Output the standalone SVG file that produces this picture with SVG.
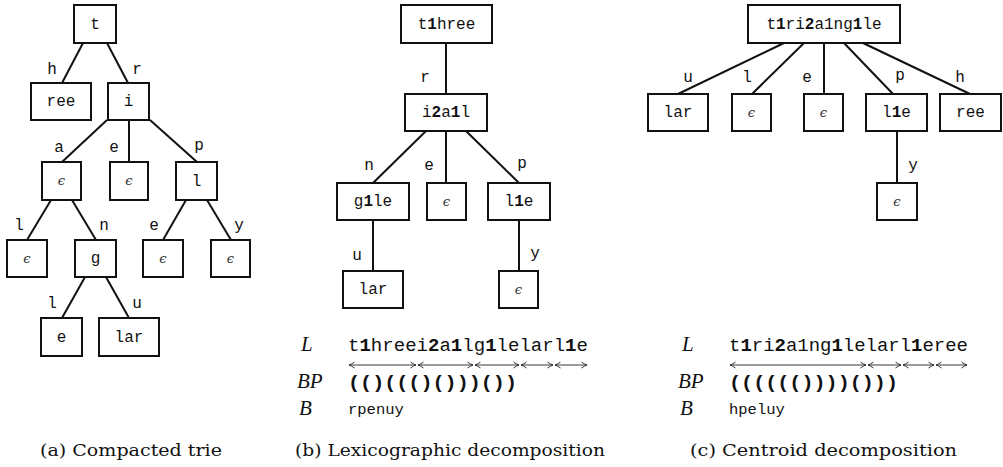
<svg xmlns="http://www.w3.org/2000/svg" width="1003" height="467" viewBox="0 0 1003 467">
<defs>
<style>
.box{fill:#fff;stroke:#111;stroke-width:2}
.edge{stroke:#111;stroke-width:2;fill:none}
.t{font-family:"Liberation Mono",monospace;font-size:16px;text-anchor:middle;fill:#111}
.eps{font-family:"DejaVu Serif",serif;font-style:italic;font-size:13px;text-anchor:middle;fill:#333}
.math{font-family:"Liberation Serif",serif;font-style:italic;font-size:21px;fill:#111}
.row{font-family:"Liberation Mono",monospace;font-size:19px;fill:#111}
.bp{font-family:"Liberation Mono",monospace;font-size:19px;font-weight:bold;fill:#111}
.bs{font-family:"Liberation Mono",monospace;font-size:15.5px;fill:#111}
.cap{font-family:"DejaVu Serif",serif;font-size:17px;fill:#111}
.b{font-weight:bold}
.arr{stroke:#222;stroke-width:0.9;fill:none;marker-start:url(#ah);marker-end:url(#ah)}
</style>
<marker id="ah" viewBox="0 0 8 8" refX="7.5" refY="4" markerWidth="8" markerHeight="8" markerUnits="userSpaceOnUse" orient="auto-start-reverse">
<path d="M2,1 Q5,3.2 7.5,4 Q5,4.8 2,7" fill="none" stroke="#222" stroke-width="0.9"/>
</marker>
</defs>

<!-- Panel (a) -->
<g id="a-connectors">
<line class="edge" x1="83" y1="43" x2="62" y2="83"/>
<line class="edge" x1="107" y1="43" x2="128" y2="83"/>
<line class="edge" x1="107" y1="120" x2="62" y2="162"/>
<line class="edge" x1="129" y1="120" x2="129" y2="162"/>
<line class="edge" x1="150" y1="120" x2="197" y2="162"/>
<line class="edge" x1="51" y1="200" x2="27" y2="240"/>
<line class="edge" x1="72" y1="200" x2="96" y2="240"/>
<line class="edge" x1="186" y1="200" x2="163" y2="240"/>
<line class="edge" x1="207" y1="200" x2="231" y2="240"/>
<line class="edge" x1="85" y1="277" x2="62" y2="318"/>
<line class="edge" x1="106" y1="277" x2="129" y2="318"/>
<text class="t" x="52" y="74">h</text>
<text class="t" x="137" y="74">r</text>
<text class="t" x="59" y="152">a</text>
<text class="t" x="114" y="152">e</text>
<text class="t" x="199" y="150">p</text>
<text class="t" x="19" y="230">l</text>
<text class="t" x="104" y="230">n</text>
<text class="t" x="154" y="230">e</text>
<text class="t" x="239" y="230">y</text>
<text class="t" x="52" y="308">l</text>
<text class="t" x="137" y="308">u</text>
</g>
<g id="a-t"><rect class="box" x="74" y="5" width="42" height="38"/><text class="t" x="95" y="29">t</text></g>
<g id="a-ree"><rect class="box" x="31" y="83" width="60" height="37"/><text class="t" x="61" y="106">ree</text></g>
<g id="a-i"><rect class="box" x="108" y="83" width="41" height="37"/><text class="t" x="128.5" y="106">i</text></g>
<g id="a-eps1"><rect class="box" x="42" y="162" width="39" height="38"/><text class="eps" x="61.5" y="185">ϵ</text></g>
<g id="a-eps2"><rect class="box" x="110" y="162" width="38" height="38"/><text class="eps" x="129" y="185">ϵ</text></g>
<g id="a-l"><rect class="box" x="176" y="162" width="41" height="38"/><text class="t" x="196.5" y="186">l</text></g>
<g id="a-eps3"><rect class="box" x="7" y="240" width="40" height="37"/><text class="eps" x="27" y="263">ϵ</text></g>
<g id="a-g"><rect class="box" x="75" y="240" width="41" height="37"/><text class="t" x="95.5" y="263">g</text></g>
<g id="a-eps4"><rect class="box" x="143" y="240" width="40" height="37"/><text class="eps" x="163" y="263">ϵ</text></g>
<g id="a-eps5"><rect class="box" x="211" y="240" width="39" height="37"/><text class="eps" x="230.5" y="263">ϵ</text></g>
<g id="a-e"><rect class="box" x="41" y="318" width="41" height="38"/><text class="t" x="61.5" y="342">e</text></g>
<g id="a-lar"><rect class="box" x="99" y="318" width="60" height="38"/><text class="t" x="129" y="342">lar</text></g>
<text class="cap" x="40" y="456" textLength="182" lengthAdjust="spacingAndGlyphs">(a)  Compacted trie</text>

<!-- Panel (b) -->
<g id="b-connectors">
<line class="edge" x1="446" y1="43" x2="446" y2="94"/>
<line class="edge" x1="426" y1="131" x2="373" y2="183"/>
<line class="edge" x1="446" y1="131" x2="446" y2="183"/>
<line class="edge" x1="466" y1="131" x2="519" y2="183"/>
<line class="edge" x1="373" y1="220" x2="373" y2="271"/>
<line class="edge" x1="519" y1="220" x2="519" y2="271"/>
<text class="t" x="425" y="82">r</text>
<text class="t" x="369" y="170">n</text>
<text class="t" x="429" y="170">e</text>
<text class="t" x="522" y="168">p</text>
<text class="t" x="357" y="260">u</text>
<text class="t" x="535" y="258">y</text>
</g>
<g id="b-t1hree"><rect class="box" x="401" y="5" width="91" height="38"/><text class="t" x="446.5" y="29">t<tspan class="b">1</tspan>hree</text></g>
<g id="b-i2a1l"><rect class="box" x="405" y="94" width="82" height="37"/><text class="t" x="446" y="117">i<tspan class="b">2</tspan>a<tspan class="b">1</tspan>l</text></g>
<g id="b-g1le"><rect class="box" x="337" y="183" width="72" height="37"/><text class="t" x="373" y="206">g<tspan class="b">1</tspan>le</text></g>
<g id="b-eps1"><rect class="box" x="427" y="183" width="39" height="37"/><text class="eps" x="446.5" y="206">ϵ</text></g>
<g id="b-l1e"><rect class="box" x="488" y="183" width="62" height="37"/><text class="t" x="519" y="206">l<tspan class="b">1</tspan>e</text></g>
<g id="b-lar"><rect class="box" x="343" y="271" width="60" height="37"/><text class="t" x="373" y="294">lar</text></g>
<g id="b-eps2"><rect class="box" x="499" y="271" width="39" height="37"/><text class="eps" x="518.5" y="294">ϵ</text></g>
<g id="b-encoding">
<text class="math" x="301" y="351">L</text>
<text class="row" x="348" y="351" textLength="240" lengthAdjust="spacingAndGlyphs">t<tspan class="b">1</tspan>hreei<tspan class="b">2</tspan>a<tspan class="b">1</tspan>lg<tspan class="b">1</tspan>lelarl<tspan class="b">1</tspan>e</text>
<line class="arr" x1="349" y1="365" x2="416" y2="365"/>
<line class="arr" x1="418" y1="365" x2="473" y2="365"/>
<line class="arr" x1="475" y1="365" x2="519" y2="365"/>
<line class="arr" x1="521" y1="365" x2="553" y2="365"/>
<line class="arr" x1="555" y1="365" x2="587" y2="365"/>
<text class="math" x="297" y="388">BP</text>
<text class="bp" x="348" y="388" textLength="169" lengthAdjust="spacingAndGlyphs">(()((()()))())</text>
<text class="math" x="299" y="415">B</text>
<text class="bs" x="348" y="414">rpenuy</text>
</g>
<text class="cap" x="295" y="456" textLength="310" lengthAdjust="spacingAndGlyphs">(b) Lexicographic decomposition</text>

<!-- Panel (c) -->
<g id="c-connectors">
<line class="edge" x1="784" y1="43" x2="678" y2="94"/>
<line class="edge" x1="804" y1="43" x2="752" y2="94"/>
<line class="edge" x1="824" y1="43" x2="824" y2="94"/>
<line class="edge" x1="844" y1="43" x2="893" y2="94"/>
<line class="edge" x1="863" y1="43" x2="970" y2="94"/>
<line class="edge" x1="897" y1="131" x2="897" y2="183"/>
<text class="t" x="688" y="82">u</text>
<text class="t" x="747" y="82">l</text>
<text class="t" x="807" y="82">e</text>
<text class="t" x="900" y="80">p</text>
<text class="t" x="960" y="82">h</text>
<text class="t" x="913" y="170">y</text>
</g>
<g id="c-root"><rect class="box" x="748" y="5" width="152" height="38"/><text class="t" x="824" y="29">t<tspan class="b">1</tspan>ri<tspan class="b">2</tspan>a1ng<tspan class="b">1</tspan>le</text></g>
<g id="c-lar"><rect class="box" x="648" y="94" width="60" height="37"/><text class="t" x="678" y="117">lar</text></g>
<g id="c-eps1"><rect class="box" x="732" y="94" width="39" height="37"/><text class="eps" x="751.5" y="117">ϵ</text></g>
<g id="c-eps2"><rect class="box" x="804" y="94" width="39" height="37"/><text class="eps" x="823.5" y="117">ϵ</text></g>
<g id="c-l1e"><rect class="box" x="866" y="94" width="61" height="37"/><text class="t" x="896.5" y="117">l<tspan class="b">1</tspan>e</text></g>
<g id="c-ree"><rect class="box" x="940" y="94" width="61" height="37"/><text class="t" x="970.5" y="117">ree</text></g>
<g id="c-eps3"><rect class="box" x="877" y="183" width="40" height="37"/><text class="eps" x="897" y="206">ϵ</text></g>
<g id="c-encoding">
<text class="math" x="682" y="351">L</text>
<text class="row" x="729" y="351" textLength="239" lengthAdjust="spacingAndGlyphs">t<tspan class="b">1</tspan>ri<tspan class="b">2</tspan>a1ng<tspan class="b">1</tspan>lelarl<tspan class="b">1</tspan>eree</text>
<line class="arr" x1="730" y1="365" x2="866" y2="365"/>
<line class="arr" x1="868" y1="365" x2="901" y2="365"/>
<line class="arr" x1="903" y1="365" x2="934" y2="365"/>
<line class="arr" x1="936" y1="365" x2="967" y2="365"/>
<text class="math" x="678" y="388">BP</text>
<text class="bp" x="729" y="388" textLength="169" lengthAdjust="spacingAndGlyphs">(((((())))()))</text>
<text class="math" x="680" y="415">B</text>
<text class="bs" x="729" y="414">hpeluy</text>
</g>
<text class="cap" x="690" y="456" textLength="267" lengthAdjust="spacingAndGlyphs">(c) Centroid decomposition</text>
</svg>
